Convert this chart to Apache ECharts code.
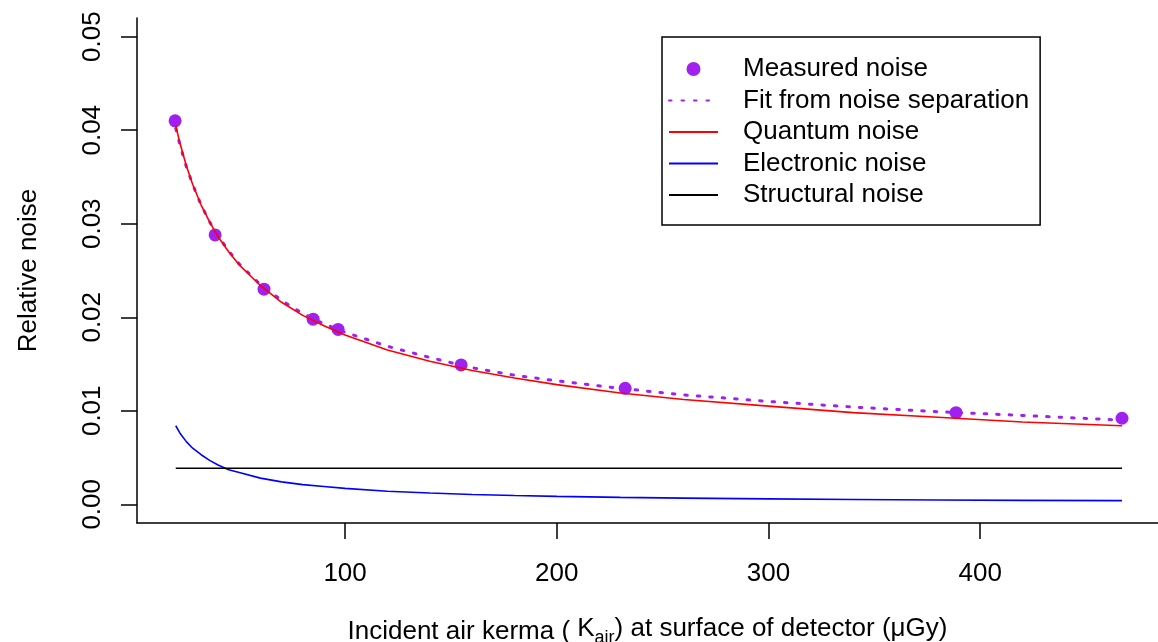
<!DOCTYPE html>
<html>
<head>
<meta charset="utf-8">
<script src="https://cdn.jsdelivr.net/npm/echarts@6/dist/echarts.min.js"></script>
<style>
html,body{margin:0;padding:0;background:#fff;}
#chart{width:1158px;height:642px;}
</style>
</head>
<body>
<div id="chart"></div>
<script>
// Measured points
const measuredX = [19.7, 38.6, 61.7, 84.9, 96.7, 154.8, 232.3, 388.6, 467.0];
const measuredY = [0.0410, 0.0288, 0.0230, 0.0198, 0.0187, 0.0149, 0.0124, 0.0098, 0.0092];

// Curves at these kerma values
const curveX = [20, 22, 25, 28, 32, 36, 40, 45, 50, 60, 70, 80, 90, 100, 120, 140, 160, 180, 200, 230, 260, 300, 340, 380, 420, 467];
const fitY = [0.0402, 0.0384, 0.0361, 0.0342, 0.0320, 0.0302, 0.0287, 0.0271, 0.0257, 0.0235, 0.0218, 0.0204, 0.0193, 0.0184, 0.0169, 0.0157, 0.0146, 0.0138, 0.0132, 0.0124, 0.0117, 0.0110, 0.0104, 0.0099, 0.0095, 0.0090];
const quantumY = [0.0405, 0.0386, 0.0362, 0.0342, 0.0320, 0.0302, 0.0286, 0.0270, 0.0256, 0.0234, 0.0216, 0.0202, 0.0191, 0.0181, 0.0165, 0.0153, 0.0143, 0.0135, 0.0128, 0.0119, 0.0112, 0.0105, 0.0098, 0.0093, 0.0088, 0.0084];
const electronicY = [0.0084, 0.0076, 0.0067, 0.0060, 0.0053, 0.0047, 0.0042, 0.0037, 0.0034, 0.0028, 0.0024, 0.0021, 0.0019, 0.0017, 0.0014, 0.0012, 0.00105, 0.00094, 0.00085, 0.00074, 0.00066, 0.00058, 0.00051, 0.00046, 0.00042, 0.00039];
const structuralX = [20, 467];
const structuralY = [0.00385, 0.00385];

const xTicks = [100, 200, 300, 400];
const yTicks = [0, 0.01, 0.02, 0.03, 0.04, 0.05];

const seriesNames = ['Measured noise', 'Fit from noise separation', 'Quantum noise', 'Electronic noise', 'Structural noise'];

const zip = (xs, ys) => xs.map((x, i) => [x, ys[i]]);
const FONT = '"Liberation Sans", Arial, sans-serif';
const FS = 26;

const chart = echarts.init(document.getElementById('chart'), null, {renderer: 'canvas'});
chart.setOption({
  animation: false,
  backgroundColor: '#fff',
  textStyle: {fontFamily: FONT},
  grid: {left: 137, right: 0, top: 18, bottom: 119, containLabel: false, outerBoundsMode: 'none'},
  xAxis: {
    type: 'value',
    min: 1.7,
    max: 484,
    axisLine: {show: true, onZero: false, lineStyle: {color: '#000', width: 1.5}},
    axisTick: {show: true, length: 16, customValues: xTicks, lineStyle: {color: '#000', width: 1.5}},
    axisLabel: {customValues: xTicks, fontSize: FS, color: '#000', margin: 38, fontFamily: FONT},
    splitLine: {show: false},
    name: 'Incident air kerma ( {n|K}{sub|air}{n|) at surface of detector (μGy)}',
    nameLocation: 'middle',
    nameGap: 93,
    nameTextStyle: {
      fontSize: FS, color: '#000', fontFamily: FONT, verticalAlign: 'top',
      rich: {
        n: {fontSize: FS, color: '#000', fontFamily: FONT, verticalAlign: 'top'},
        sub: {fontSize: 18, color: '#000', fontFamily: FONT, verticalAlign: 'top', padding: [13, 0, 0, 0]}
      }
    }
  },
  yAxis: {
    type: 'value',
    min: -0.002,
    max: 0.052,
    axisLine: {show: true, onZero: false, lineStyle: {color: '#000', width: 1.5}},
    axisTick: {show: true, length: 16, customValues: yTicks, lineStyle: {color: '#000', width: 1.5}},
    axisLabel: {customValues: yTicks, fontSize: FS, color: '#000', margin: 31, rotate: 90, fontFamily: FONT,
      formatter: v => v.toFixed(2)},
    splitLine: {show: false},
    name: 'Relative noise',
    nameLocation: 'middle',
    nameRotate: 90,
    nameGap: 95,
    nameTextStyle: {fontSize: FS, color: '#000', fontFamily: FONT}
  },
  legend: {
    orient: 'vertical',
    left: 662,
    top: 37,
    backgroundColor: '#fff',
    borderColor: '#000',
    borderWidth: 1.5,
    borderRadius: 0,
    padding: [19, 11, 17, 6],
    itemWidth: 49,
    itemHeight: 14,
    itemGap: 5.5,
    textStyle: {fontSize: FS, color: '#000', fontFamily: FONT, lineHeight: 26, padding: [0, 0, 0, 20]},
    data: [
      {name: seriesNames[0], icon: 'circle'},
      {name: seriesNames[1], itemStyle: {opacity: 0}},
      {name: seriesNames[2], itemStyle: {opacity: 0}},
      {name: seriesNames[3], itemStyle: {opacity: 0}},
      {name: seriesNames[4], itemStyle: {opacity: 0}}
    ]
  },
  series: [
    {
      name: seriesNames[0], type: 'scatter', z: 2,
      symbol: 'circle', symbolSize: 13,
      itemStyle: {color: '#A020F0', opacity: 1},
      data: zip(measuredX, measuredY)
    },
    {
      name: seriesNames[1], type: 'line', z: 3, symbol: 'none',
      lineStyle: {color: '#A020F0', width: 3, type: [2.5, 10], cap: 'round'},
      itemStyle: {color: '#A020F0'},
      data: zip(curveX, fitY)
    },
    {
      name: seriesNames[2], type: 'line', z: 4, symbol: 'none',
      lineStyle: {color: '#FF0000', width: 1.6},
      itemStyle: {color: '#FF0000'},
      data: zip(curveX, quantumY)
    },
    {
      name: seriesNames[3], type: 'line', z: 4, symbol: 'none',
      lineStyle: {color: '#0000FF', width: 1.6},
      itemStyle: {color: '#0000FF'},
      data: zip(curveX, electronicY)
    },
    {
      name: seriesNames[4], type: 'line', z: 4, symbol: 'none',
      lineStyle: {color: '#000000', width: 1.6},
      itemStyle: {color: '#000000'},
      data: zip(structuralX, structuralY)
    }
  ]
});
</script>
</body>
</html>
